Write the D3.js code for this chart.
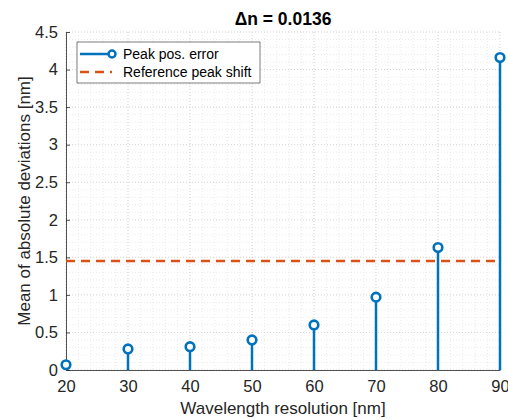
<!DOCTYPE html>
<html>
<head>
<meta charset="utf-8">
<script src="https://cdn.jsdelivr.net/npm/d3@7"></script>
<style>
  body { margin: 0; background: #fff; }
  svg { font-family: "Liberation Sans", Arial, sans-serif; }
</style>
</head>
<body>
<div id="chart"></div>
<script>
// Data
const resolutions = [20, 30, 40, 50, 60, 70, 80, 90];
const peakErrors = [0.07, 0.28, 0.31, 0.40, 0.60, 0.97, 1.63, 4.16];
const referenceShift = 1.45;
const xTicks = [20, 30, 40, 50, 60, 70, 80, 90];
const yTicks = [0, 0.5, 1, 1.5, 2, 2.5, 3, 3.5, 4, 4.5];

const W = 508, H = 419;
const margin = { top: 32, right: 8, bottom: 49, left: 66 };
const width = W - margin.left - margin.right;
const height = H - margin.top - margin.bottom;

const blue = "#0072BD", orange = "#D95319", axisCol = "#262626";

const svg = d3.select("#chart").append("svg")
    .attr("width", W)
    .attr("height", H);

const g = svg.append("g")
    .attr("transform", `translate(${margin.left},${margin.top})`);

const x = d3.scaleLinear().domain([20, 90]).range([0, width]);
const y = d3.scaleLinear().domain([0, 4.5]).range([height, 0]);

// Minor grid
const xMinor = d3.range(20, 90.01, 2);
const yMinor = d3.range(0, 4.501, 0.1);
g.append("g").selectAll("line").data(xMinor).join("line")
    .attr("x1", d => x(d)).attr("x2", d => x(d))
    .attr("y1", 0).attr("y2", height)
    .attr("stroke", "#dcdcdc").attr("stroke-width", 0.6)
    .attr("stroke-dasharray", "1,2");
g.append("g").selectAll("line").data(yMinor).join("line")
    .attr("x1", 0).attr("x2", width)
    .attr("y1", d => y(d)).attr("y2", d => y(d))
    .attr("stroke", "#dcdcdc").attr("stroke-width", 0.6)
    .attr("stroke-dasharray", "1,2");
// Major grid
g.append("g").selectAll("line").data(xTicks).join("line")
    .attr("x1", d => x(d)).attr("x2", d => x(d))
    .attr("y1", 0).attr("y2", height)
    .attr("stroke", "#d0d0d0").attr("stroke-width", 0.7)
    .attr("stroke-dasharray", "1,2");
g.append("g").selectAll("line").data(yTicks).join("line")
    .attr("x1", 0).attr("x2", width)
    .attr("y1", d => y(d)).attr("y2", d => y(d))
    .attr("stroke", "#d0d0d0").attr("stroke-width", 0.7)
    .attr("stroke-dasharray", "1,2");

// Axes
const xAxis = g.append("g")
    .attr("transform", `translate(0,${height})`)
    .call(d3.axisBottom(x).tickValues(xTicks).tickSizeInner(-4).tickSizeOuter(0).tickPadding(10));
const yAxis = g.append("g")
    .call(d3.axisLeft(y).tickValues(yTicks).tickSizeInner(-4).tickSizeOuter(0).tickPadding(8)
        .tickFormat(d3.format("")));
[xAxis, yAxis].forEach(a => {
    a.select(".domain").attr("stroke", axisCol).attr("stroke-width", 0.8);
    a.selectAll(".tick line").attr("stroke", axisCol).attr("stroke-width", 0.8);
    a.selectAll(".tick text").attr("fill", axisCol)
        .style("font-size", "16.5px")
        .style("font-family", "Liberation Sans, Arial, sans-serif");
});

// Reference line
g.append("line")
    .attr("x1", 0).attr("x2", width)
    .attr("y1", y(referenceShift)).attr("y2", y(referenceShift))
    .attr("stroke", orange).attr("stroke-width", 2.5)
    .attr("stroke-dasharray", "9,6");

// Stems
const data = resolutions.map((r, i) => ({ r, v: peakErrors[i] }));
g.append("g").selectAll("line").data(data).join("line")
    .attr("x1", d => x(d.r)).attr("x2", d => x(d.r))
    .attr("y1", y(0)).attr("y2", d => y(d.v))
    .attr("stroke", blue).attr("stroke-width", 2.5);
g.append("g").selectAll("circle").data(data).join("circle")
    .attr("cx", d => x(d.r)).attr("cy", d => y(d.v))
    .attr("r", 4.3)
    .attr("fill", "#fff")
    .attr("stroke", blue).attr("stroke-width", 2.6);

// Title
svg.append("text")
    .attr("x", margin.left + width / 2).attr("y", 25)
    .attr("text-anchor", "middle")
    .attr("fill", "#000")
    .style("font-size", "17.5px").style("font-weight", "bold")
    .text("\u0394n = 0.0136");

// Axis labels
svg.append("text")
    .attr("x", margin.left + width / 2).attr("y", 414)
    .attr("text-anchor", "middle")
    .attr("fill", axisCol)
    .style("font-size", "17px")
    .text("Wavelength resolution [nm]");
svg.append("text")
    .attr("transform", `translate(30,${margin.top + height / 2}) rotate(-90)`)
    .attr("text-anchor", "middle")
    .attr("fill", axisCol)
    .style("font-size", "17px")
    .text("Mean of absolute deviations [nm]");

// Legend
const legend = svg.append("g").attr("transform", "translate(77,42)");
legend.append("rect")
    .attr("width", 183).attr("height", 41)
    .attr("fill", "#fff").attr("stroke", "#262626").attr("stroke-width", 0.6);
legend.append("line")
    .attr("x1", 3).attr("x2", 35).attr("y1", 12).attr("y2", 12)
    .attr("stroke", blue).attr("stroke-width", 2.5);
legend.append("circle")
    .attr("cx", 35).attr("cy", 12).attr("r", 3.5)
    .attr("fill", "#fff").attr("stroke", blue).attr("stroke-width", 2.5);
legend.append("line")
    .attr("x1", 3).attr("x2", 35).attr("y1", 30).attr("y2", 30)
    .attr("stroke", orange).attr("stroke-width", 2.5)
    .attr("stroke-dasharray", "9,6");
legend.selectAll("text.lbl").data(["Peak pos. error", "Reference peak shift"]).join("text")
    .attr("class", "lbl")
    .attr("x", 46).attr("y", (d, i) => 17 + i * 18)
    .attr("fill", "#000")
    .style("font-size", "14px")
    .text(d => d);
</script>
</body>
</html>
